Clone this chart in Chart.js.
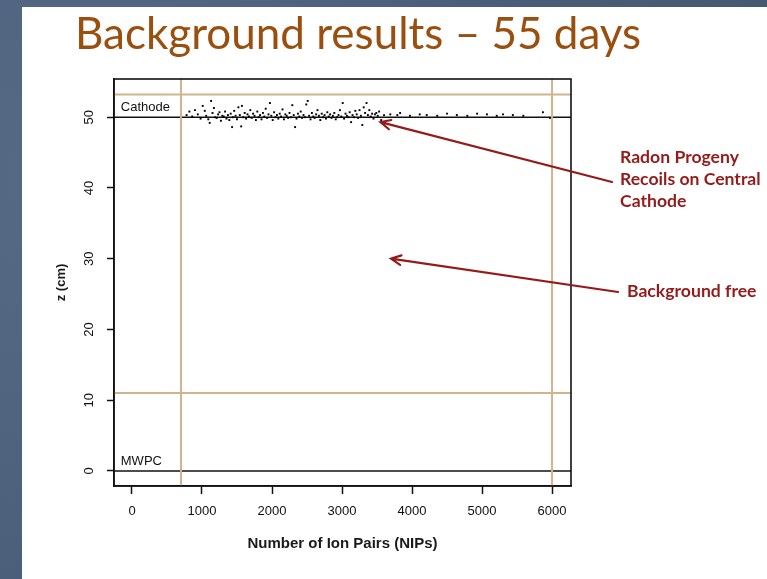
<!DOCTYPE html>
<html>
<head>
<meta charset="utf-8">
<script src="https://cdn.jsdelivr.net/npm/chart.js@4"></script>
<style>
  html, body { margin: 0; padding: 0; width: 767px; height: 579px; overflow: hidden;
    background: radial-gradient(circle at 10% 30%, #566a86 0%, #4a5d78 60%, #46586f 100%); }
  #slide { position: absolute; left: 22px; top: 7px; right: 0; bottom: 0; background: #ffffff; }
  #wrap { position: absolute; left: 0; top: 0; width: 767px; height: 579px; }
</style>
</head>
<body>
<div id="slide"></div>
<div id="wrap"><canvas id="c" width="767" height="579"></canvas></div>
<script>
// Events recorded over 55 days: number of ion pairs vs reconstructed z
const nips = [
  780, 820, 860, 900, 940, 980, 1010, 1040, 1060, 1090, 1110, 1130, 1150, 1170, 1190, 1210,
  1230, 1250, 1270, 1290, 1310, 1330, 1350, 1370, 1390, 1410, 1430, 1440, 1460, 1480, 1500,
  1520, 1540, 1560, 1570, 1590, 1610, 1630, 1650, 1670, 1690, 1710, 1730, 1750, 1770, 1790,
  1810, 1830, 1850, 1870, 1890, 1910, 1930, 1950, 1970, 1990, 2010, 2030, 2050, 2070, 2090,
  2110, 2130, 2150, 2170, 2190, 2210, 2230, 2250, 2270, 2290, 2310, 2330, 2350, 2370, 2390,
  2410, 2430, 2450, 2470, 2490, 2510, 2530, 2550, 2570, 2590, 2610, 2630, 2650, 2670, 2690,
  2710, 2730, 2750, 2770, 2790, 2810, 2830, 2850, 2870, 2890, 2910, 2930, 2950, 2970, 2990,
  3010, 3030, 3050, 3070, 3090, 3110, 3130, 3150, 3170, 3190, 3210, 3230, 3250, 3270, 3290,
  3310, 3330, 3350, 3370, 3390, 3410, 3430, 3450, 3470, 3490, 3510, 3530, 3560, 3600,
  3690, 3790, 3830, 3970, 4110, 4210, 4360, 4500, 4640, 4790, 4930, 5070, 5210, 5300, 5440,
  5590, 5870, 5970
];
const zcm = [
  50.3, 50.8, 50.1, 51.0, 50.4, 49.8, 51.6, 50.9, 50.2, 49.7, 49.2, 52.3, 50.6, 51.3, 50.0, 49.9,
  50.4, 50.7, 49.5, 50.2, 50.1, 50.8, 49.8, 50.3, 49.6, 50.5, 48.6, 50.0, 50.9, 50.2, 49.7,
  51.4, 50.3, 48.7, 51.6, 50.0, 50.6, 49.8, 50.4, 50.1, 51.0, 49.9, 50.5, 50.2, 49.6, 50.8,
  50.0, 50.3, 49.7, 50.6, 50.1, 51.2, 49.9, 50.4, 52.0, 50.2, 49.6, 50.7, 50.0, 50.3, 49.8,
  50.5, 50.1, 51.1, 49.7, 50.4, 50.2, 49.9, 50.6, 50.0, 51.7, 50.3, 48.6, 49.8, 50.5, 50.1,
  50.8, 49.9, 50.3, 50.0, 51.8, 52.3, 50.2, 49.7, 50.6, 50.1, 49.9, 50.4, 51.0, 50.2, 49.6,
  50.5, 50.0, 50.3, 49.8, 50.7, 50.1, 50.4, 49.9, 50.2, 50.6, 49.7, 50.0, 50.3, 51.0, 50.1,
  52.0, 49.8, 50.5, 50.2, 50.0, 50.7, 49.3, 50.3, 50.0, 50.9, 50.4, 49.9, 51.0, 50.2, 48.9,
  51.4, 50.6, 52.0, 50.3, 51.0, 50.1, 50.5, 49.8, 50.4, 50.6, 50.2, 50.8, 49.6, 50.3,
  50.4, 50.3, 50.6, 50.2, 50.4, 50.3, 50.2, 50.5, 50.3, 50.2, 50.5, 50.4, 50.2, 50.4, 50.3,
  50.2, 50.7, 49.9
];

// Axis ticks
const xTickValues = [0, 1000, 2000, 3000, 4000, 5000, 6000];
const yTickValues = [0, 10, 20, 30, 40, 50];

// Axis extents
const xRange = [-257, 6271];
const yRange = [-2.13, 55.4];

// Electrode planes and fiducial cuts
const electrodeZ = [0, 50];
const electrodeNames = ['MWPC', 'Cathode'];
const zCuts = [11, 53.2];
const nipsCuts = [700, 6000];

// Annotations: label lines and where their arrows point (NIPs, z)
const annotations = [
  { lines: ['Radon Progeny', 'Recoils on Central', 'Cathode'], target: [3550, 49.3] },
  { lines: ['Background free'], target: [3700, 30.0] }
];

const FONT = "'Liberation Sans', Arial, sans-serif";
const TAN = '#d2b48c';

const refLines = [];
zCuts.forEach(z => refLines.push({ type: 'scatter', showLine: true, data: [{x: xRange[0], y: z}, {x: xRange[1], y: z}],
  borderColor: TAN, borderWidth: 2, pointRadius: 0 }));
nipsCuts.forEach(n => refLines.push({ type: 'scatter', showLine: true, data: [{x: n, y: yRange[0]}, {x: n, y: yRange[1]}],
  borderColor: TAN, borderWidth: 2, pointRadius: 0 }));
electrodeZ.forEach(z => refLines.push({ type: 'scatter', showLine: true, data: [{x: xRange[0], y: z}, {x: xRange[1], y: z}],
  borderColor: '#111', borderWidth: 1.6, pointRadius: 0 }));

const boxPlugin = {
  id: 'box',
  afterDatasetsDraw(chart) {
    const {ctx, chartArea: a} = chart;
    ctx.save();
    ctx.strokeStyle = '#111';
    ctx.lineWidth = 1.6;
    ctx.strokeRect(a.left, a.top, a.right - a.left, a.bottom - a.top);
    ctx.restore();
  }
};

const textPlugin = {
  id: 'texts',
  afterDraw(chart) {
    const {ctx} = chart;
    const xs = chart.scales.x, ys = chart.scales.y;
    ctx.save();

    // rotated y tick labels
    ctx.fillStyle = '#111';
    ctx.font = '13px ' + FONT;
    ctx.textAlign = 'center';
    ctx.textBaseline = 'middle';
    ys.ticks.forEach(t => {
      ctx.save();
      ctx.translate(89, ys.getPixelForValue(t.value));
      ctx.rotate(-Math.PI / 2);
      ctx.fillText(String(t.value), 0, 0);
      ctx.restore();
    });

    // electrode labels
    ctx.textAlign = 'left';
    ctx.textBaseline = 'alphabetic';
    electrodeNames.forEach((name, i) => {
      ctx.fillText(name, xs.getPixelForValue(-160), ys.getPixelForValue(electrodeZ[i] + 0.85));
    });

    // slide title
    ctx.fillStyle = '#9b4f0f';
    ctx.font = "44px Lato, 'Open Sans', sans-serif";
    ctx.fillText('Background results \u2013 55 days', 75, 49);

    // annotations with arrows
    const red = '#951b1b';
    ctx.font = "bold 17.6px Lato, 'Open Sans', sans-serif";
    const spots = [{x: 620, y: 163, tail: [612, 182]}, {x: 627, y: 297, tail: [618, 292]}];
    annotations.forEach((an, k) => {
      const s = spots[k];
      ctx.fillStyle = red;
      an.lines.forEach((ln, j) => ctx.fillText(ln, s.x, s.y + j * 22));
      const tx = xs.getPixelForValue(an.target[0]);
      const ty = ys.getPixelForValue(an.target[1]);
      const [sx, sy] = s.tail;
      ctx.strokeStyle = red;
      ctx.lineWidth = 2.2;
      ctx.lineCap = 'round';
      ctx.beginPath();
      ctx.moveTo(sx, sy);
      ctx.lineTo(tx, ty);
      const ang = Math.atan2(sy - ty, sx - tx);
      const L = 11, w = 0.45;
      ctx.moveTo(tx + L * Math.cos(ang + w), ty + L * Math.sin(ang + w));
      ctx.lineTo(tx, ty);
      ctx.lineTo(tx + L * Math.cos(ang - w), ty + L * Math.sin(ang - w));
      ctx.stroke();
    });
    ctx.restore();
  }
};

new Chart(document.getElementById('c'), {
  type: 'scatter',
  data: {
    datasets: [
      { data: nips.map((x, i) => ({x, y: zcm[i]})), backgroundColor: '#000', borderWidth: 0,
        pointRadius: 1.35, pointStyle: 'rect' },
      ...refLines
    ]
  },
  options: {
    responsive: false,
    animation: false,
    devicePixelRatio: 1,
    events: [],
    layout: { padding: { left: 0, top: 79, right: 196, bottom: 0 } },
    plugins: { legend: { display: false }, tooltip: { enabled: false }, title: { display: false } },
    scales: {
      x: {
        type: 'linear', min: xRange[0], max: xRange[1],
        afterBuildTicks: s => { s.ticks = xTickValues.map(v => ({value: v})); },
        afterFit: s => { s.height = 93; },
        ticks: { font: { family: FONT, size: 13 }, color: '#111', padding: 10, callback: v => String(v) },
        grid: { drawOnChartArea: false, drawTicks: true, tickLength: 8, tickColor: '#111', tickWidth: 1.5 },
        border: { display: true, color: '#111', width: 1.6 },
        title: { display: true, text: 'Number of Ion Pairs (NIPs)', color: '#1a1a1a',
          font: { family: FONT, size: 15, weight: 'bold' }, padding: { top: 0, bottom: 26 } }
      },
      y: {
        type: 'linear', min: yRange[0], max: yRange[1],
        afterBuildTicks: s => { s.ticks = yTickValues.map(v => ({value: v})); },
        afterFit: s => { s.width = 114; },
        ticks: { display: false },
        grid: { drawOnChartArea: false, drawTicks: true, tickLength: 7, tickColor: '#111', tickWidth: 1.5 },
        border: { display: true, color: '#111', width: 1.6 },
        title: { display: true, text: 'z (cm)', color: '#1a1a1a',
          font: { family: FONT, size: 13, weight: 'bold' }, padding: { top: 54, bottom: 0 } }
      }
    }
  },
  plugins: [boxPlugin, textPlugin]
});
</script>
</body>
</html>
